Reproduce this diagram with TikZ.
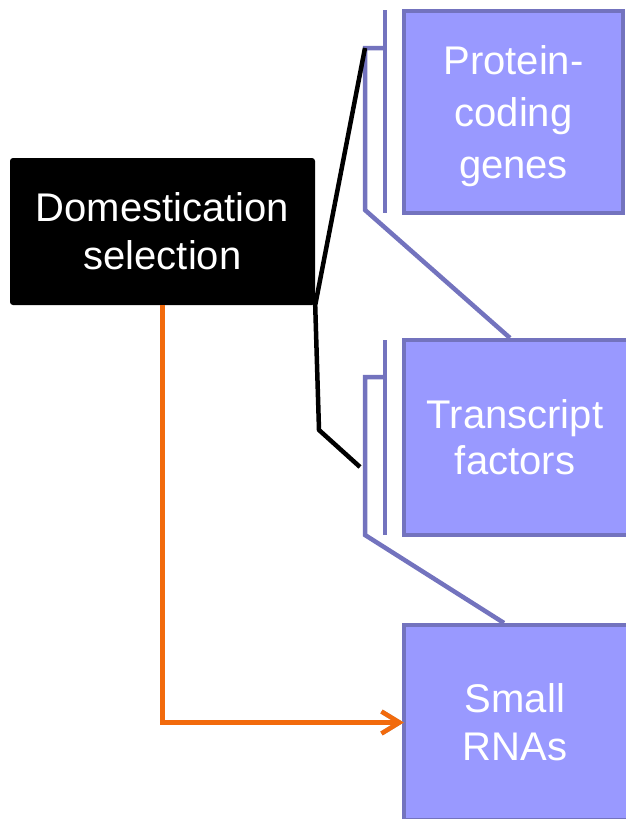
\documentclass[tikz,border=0pt]{standalone}
\usepackage{fontspec}
\setmainfont{Liberation Sans}
\usetikzlibrary{arrows.meta,backgrounds}
\definecolor{boxfill}{HTML}{9999FF}
\definecolor{boxedge}{HTML}{7373BE}
\definecolor{arroworange}{HTML}{F26A0C}
\begin{document}
\begin{tikzpicture}[x=1pt,y=-1pt,
  lbl/.style={text=white, font=\fontsize{40}{48}\selectfont, align=center, inner sep=0pt},
  topic/.style={lbl, minimum width=222pt},
  topicbox/.style={draw=boxedge, fill=boxfill, line width=4.5pt},
  rootbox/.style={lbl, fill=black, rounded corners=3pt, minimum width=305pt, minimum height=147pt},
  link/.style={draw=boxedge, line width=4.5pt},
  blackline/.style={draw=black, line width=4.5pt, line join=miter},
  flow/.style={draw=arroworange, line width=4.5pt, -{Straight Barb[length=18pt,width=22pt,line width=4.5pt]}},
  flowshadow/.style={draw=gray!70, line width=4.5pt, -{Straight Barb[length=18pt,width=22pt,line width=4.5pt]}}]
\useasboundingbox (0,0) rectangle (625,819);
\clip (0,0) rectangle (625,819);

% main boxes (the purple frames are drawn on the background layer)
\node[rootbox] (dom) at (162.5,231.5) {Domestication\\selection};
\node[topic, minimum width=219pt, minimum height=202pt, text depth=0pt,
      font=\fontsize{40}{52}\selectfont] (pcg) at (513.5,112) {Protein-\\coding\\genes};
\node[topic, minimum height=195pt,
      font=\fontsize{40}{46}\selectfont] (tf) at (515,437.5) {Transcript\\factors};
\node[topic, minimum height=195pt] (srna) at (515,722.5) {Small\\RNAs};

\begin{scope}[on background layer]
  \draw[topicbox] (pcg.north west) rectangle (pcg.south east);
  \draw[topicbox] (tf.north west) rectangle ([xshift=30pt]tf.south east);
  \draw[topicbox] (srna.north west) rectangle ([xshift=30pt]srna.south east);
\end{scope}

% bracket points beside the purple boxes
\coordinate (bar1a) at (385,10);
\coordinate (bar1b) at (385,213);
\coordinate (hook1a) at (385,48);
\coordinate (hook1b) at (365,48);
\coordinate (hook1c) at (365,210);
\coordinate (top2) at (510,338);
\coordinate (bar2a) at (385,340);
\coordinate (bar2b) at (385,535);
\coordinate (hook2a) at (385,377);
\coordinate (hook2b) at (365,377);
\coordinate (hook2c) at (365,535);
\coordinate (top3) at (504,623);
\coordinate (bend) at (319,430);
\coordinate (tfend) at (360,467);

% purple brackets
\draw[link] (bar1a) -- (bar1b);
\draw[link] (hook1a) -- (hook1b) -- (hook1c) -- (top2);
\draw[link] (bar2a) -- (bar2b);
\draw[link] (hook2a) -- (hook2b) -- (hook2c) -- (top3);

% black links from the root box
\draw[blackline] (hook1b) -- (dom.south east) -- (bend) -- (tfend);

% orange arrow with its shadow
\draw[flowshadow, xshift=2pt, yshift=-2.5pt] (dom.south) |- (srna.west);
\draw[flow] (dom.south) |- (srna.west);
\end{tikzpicture}
\end{document}
